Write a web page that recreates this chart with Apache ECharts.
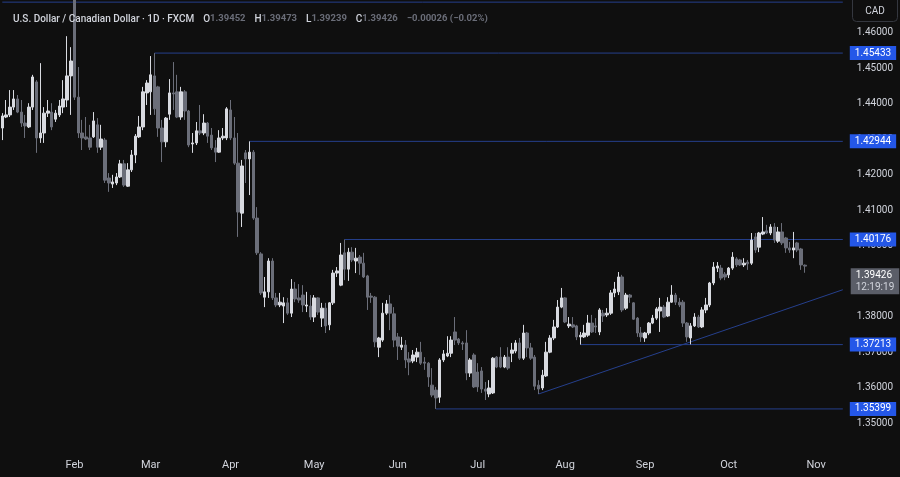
<!DOCTYPE html>
<html>
<head>
<meta charset="utf-8">
<title>USD/CAD 1D</title>
<script src="https://cdn.jsdelivr.net/npm/echarts@6/dist/echarts.min.js"></script>
<style>
  html, body { margin: 0; padding: 0; background: #0f0f0f; }
  #chart { width: 900px; height: 477px; }
</style>
</head>
<body>
<div id="chart"></div>
<script>
// daily candles per month, each row is [open, close, low, high]
const jan = [
  [1.4332,1.4366,1.4298,1.4374],[1.4363,1.4369,1.4360,1.4411],[1.4369,1.4391,1.4363,1.4439],
  [1.4391,1.4414,1.4383,1.4439],[1.4414,1.4377,1.4374,1.4425],[1.4377,1.4346,1.4335,1.4411],
  [1.4346,1.4338,1.4304,1.4369],[1.4335,1.4391,1.4332,1.4402],[1.4391,1.4476,1.4383,1.4482],
  [1.4462,1.4304,1.4262,1.4467],[1.4304,1.4318,1.4290,1.4515],[1.4318,1.4374,1.4290,1.4391],
  [1.4374,1.4380,1.4363,1.4411],[1.4377,1.4335,1.4326,1.4402],[1.4357,1.4374,1.4349,1.4383],
  [1.4369,1.4394,1.4363,1.4411],[1.4391,1.4414,1.4374,1.4467],[1.4411,1.4479,1.4391,1.4591],
  [1.4479,1.4521,1.4369,1.4560]
]
const feb = [
  [1.4750,1.4419,1.4411,1.4793],[1.4419,1.4318,1.4304,1.4504],[1.4318,1.4304,1.4270,1.4355],
  [1.4307,1.4301,1.4298,1.4363],[1.4304,1.4278,1.4270,1.4341],[1.4307,1.4352,1.4304,1.4377],
  [1.4341,1.4278,1.4262,1.4360],[1.4278,1.4301,1.4270,1.4341],[1.4298,1.4185,1.4177,1.4304],
  [1.4191,1.4177,1.4152,1.4205],[1.4174,1.4180,1.4163,1.4200],[1.4177,1.4194,1.4171,1.4205],
  [1.4194,1.4231,1.4191,1.4242],[1.4231,1.4171,1.4166,1.4242],[1.4168,1.4214,1.4166,1.4233],
  [1.4214,1.4256,1.4208,1.4270],[1.4256,1.4309,1.4233,1.4315],[1.4307,1.4335,1.4304,1.4366],
  [1.4335,1.4434,1.4326,1.4448],[1.4431,1.4459,1.4397,1.4467]
]
const mar = [
  [1.4434,1.4482,1.4369,1.4535],[1.4479,1.4386,1.4369,1.45433],[1.4448,1.4332,1.4307,1.4451],
  [1.4332,1.4293,1.4236,1.4355],[1.4293,1.4360,1.4278,1.4363],[1.4371,1.4431,1.4355,1.4470],
  [1.4431,1.4428,1.4383,1.4518],[1.4434,1.4363,1.4360,1.4482],[1.4363,1.4434,1.4355,1.4448],
  [1.4434,1.4380,1.4355,1.4439],[1.4380,1.4284,1.4278,1.4383],[1.4287,1.4290,1.4262,1.4318],
  [1.4290,1.4324,1.4284,1.4349],[1.4324,1.4318,1.4312,1.4397],[1.4318,1.4346,1.4312,1.4371],
  [1.4346,1.4309,1.4290,1.4349],[1.4312,1.4276,1.4270,1.4332],[1.4276,1.4264,1.4236,1.4298],
  [1.4264,1.4304,1.4262,1.4326],[1.4304,1.4309,1.4298,1.4332],[1.4304,1.4386,1.4298,1.4391]
]
const apr = [
  [1.4383,1.4304,1.4298,1.4411],[1.4304,1.4233,1.4228,1.4363],[1.4233,1.4095,1.4025,1.4318],
  [1.4092,1.4225,1.4053,1.4242],[1.4262,1.4245,1.4177,1.4270],[1.4245,1.4264,1.4143,1.42944],
  [1.4264,1.4078,1.4073,1.4270],[1.4078,1.3980,1.3974,1.4109],[1.3977,1.3867,1.3861,1.3982],
  [1.3855,1.3870,1.3827,1.3912],[1.3870,1.3957,1.3853,1.3965],[1.3957,1.3853,1.3847,1.3965],
  [1.3853,1.3833,1.3827,1.3867],[1.3833,1.3841,1.3827,1.3867],[1.3830,1.3839,1.3782,1.3855],
  [1.3839,1.3810,1.3805,1.3853],[1.3810,1.3878,1.3799,1.3906],[1.3878,1.3850,1.3841,1.3898],
  [1.3853,1.3847,1.3839,1.3892],[1.3861,1.3833,1.3813,1.3889],[1.3830,1.3833,1.3813,1.3870],
  [1.3830,1.3799,1.3791,1.3861]
]
const may = [
  [1.3799,1.3853,1.3785,1.3861],[1.3853,1.3813,1.3805,1.3855],[1.3796,1.3824,1.3771,1.3839],
  [1.3824,1.3774,1.3754,1.3839],[1.3777,1.3839,1.3762,1.3841],[1.3839,1.3923,1.3833,1.3932],
  [1.3923,1.3929,1.3912,1.3940],[1.3889,1.3974,1.3886,1.4008],[1.3980,1.3934,1.3903,1.40176],
  [1.3934,1.3982,1.3901,1.3994],[1.3982,1.3960,1.3954,1.3996],[1.3957,1.3965,1.3923,1.3994],
  [1.3968,1.3951,1.3918,1.3974],[1.3951,1.3912,1.3909,1.3980],[1.3915,1.3855,1.3819,1.3918],
  [1.3858,1.3855,1.3839,1.3867],[1.3855,1.3729,1.3714,1.3858],[1.3714,1.3740,1.3686,1.3743],
  [1.3734,1.3810,1.3729,1.3839],[1.3810,1.3836,1.3805,1.3847],[1.3836,1.3810,1.3762,1.3861],
  [1.3808,1.3734,1.3714,1.3827]
]
const jun = [
  [1.3743,1.3717,1.3678,1.3754],[1.3714,1.3720,1.3706,1.3743],[1.3720,1.3678,1.3655,1.3734],
  [1.3681,1.3672,1.3635,1.3700],[1.3675,1.3692,1.3669,1.3706],[1.3686,1.3700,1.3672,1.3712],
  [1.3700,1.3669,1.3664,1.3729],[1.3672,1.3669,1.3650,1.3686],[1.3669,1.3630,1.3602,1.3672],
  [1.3607,1.3579,1.3573,1.3655],[1.3593,1.3571,1.35399,1.3602],[1.3573,1.3678,1.3557,1.3683],
  [1.3678,1.3695,1.3672,1.3706],[1.3689,1.3697,1.3686,1.3745],[1.3697,1.3734,1.3686,1.3745],
  [1.3757,1.3734,1.3720,1.3799],[1.3737,1.3726,1.3720,1.3740],[1.3726,1.3723,1.3706,1.3731],
  [1.3726,1.3641,1.3621,1.3762],[1.3641,1.3678,1.3630,1.3683],[1.3692,1.3602,1.3599,1.3697]
]
const jul = [
  [1.3644,1.3602,1.3588,1.3669],[1.3647,1.3596,1.3585,1.3658],[1.3596,1.3590,1.3565,1.3616],
  [1.3582,1.3599,1.3573,1.3621],[1.3585,1.3683,1.3582,1.3686],[1.3686,1.3658,1.3655,1.3689],
  [1.3686,1.3658,1.3655,1.3714],[1.3658,1.3686,1.3655,1.3692],[1.3686,1.3655,1.3650,1.3714],
  [1.3697,1.3706,1.3672,1.3726],[1.3703,1.3726,1.3697,1.3734],[1.3726,1.3683,1.3678,1.3740],
  [1.3683,1.3754,1.3678,1.3777],[1.3754,1.3712,1.3686,1.3757],[1.3712,1.3683,1.3678,1.3726],
  [1.3686,1.3604,1.3593,1.3692],[1.3607,1.3596,1.3582,1.3621],[1.3599,1.3635,1.3593,1.3650],
  [1.3633,1.3700,1.3630,1.3729],[1.3700,1.3740,1.3697,1.3748],[1.3740,1.3771,1.3734,1.3791],
  [1.3771,1.3827,1.3768,1.3847],[1.3827,1.3853,1.3824,1.3881]
]
const aug = [
  [1.3853,1.3785,1.3782,1.3855],[1.3774,1.3779,1.3768,1.3799],[1.3777,1.3771,1.3768,1.3799],
  [1.3774,1.3743,1.3734,1.3777],[1.3743,1.3748,1.37213,1.3757],[1.3743,1.3754,1.3740,1.3777],
  [1.3748,1.3782,1.3743,1.3805],[1.3782,1.3757,1.3754,1.3805],[1.3774,1.3771,1.3754,1.3796],
  [1.3757,1.3819,1.3748,1.3824],[1.3810,1.3802,1.3785,1.3819],[1.3805,1.3810,1.3799,1.3824],
  [1.3810,1.3867,1.3805,1.3875],[1.3867,1.3878,1.3855,1.3898],[1.3870,1.3912,1.3861,1.3926],
  [1.3912,1.3819,1.3813,1.3918],[1.3824,1.3861,1.3819,1.3867],[1.3861,1.3855,1.3839,1.3864],
  [1.3839,1.3793,1.3791,1.3841],[1.3796,1.3754,1.3743,1.3799],[1.3754,1.3743,1.3729,1.3771]
]
const sep = [
  [1.3740,1.3754,1.3729,1.3757],[1.3754,1.3782,1.3748,1.3785],[1.3782,1.3796,1.3779,1.3805],
  [1.3796,1.3822,1.3791,1.3827],[1.3816,1.3827,1.3757,1.3853],[1.3827,1.3799,1.3796,1.3833],
  [1.3802,1.3841,1.3799,1.3855],[1.3841,1.3861,1.3839,1.3889],[1.3861,1.3841,1.3833,1.3867],
  [1.3841,1.3833,1.3827,1.3853],[1.3841,1.3782,1.3771,1.3847],[1.3782,1.3743,1.3729,1.3785],
  [1.3740,1.3774,1.3722,1.3782],[1.3774,1.3799,1.3771,1.3810],[1.3799,1.3771,1.3768,1.3805],
  [1.3771,1.3819,1.3768,1.3827],[1.3819,1.3833,1.3810,1.3853],[1.3833,1.3895,1.3827,1.3898],
  [1.3895,1.3940,1.3889,1.3954],[1.3937,1.3943,1.3926,1.3954],[1.3937,1.3909,1.3903,1.3946],
  [1.3920,1.3912,1.3903,1.3926]
]
const oct = [
  [1.3918,1.3937,1.3909,1.3940],[1.3937,1.3968,1.3932,1.3982],[1.3963,1.3946,1.3940,1.3968],
  [1.3960,1.3946,1.3943,1.3963],[1.3946,1.3951,1.3940,1.3965],[1.3954,1.3949,1.3932,1.3960],
  [1.3951,1.4016,1.3946,1.4036],[1.4025,1.3988,1.3980,1.4036],[1.3996,1.4036,1.3982,1.4039],
  [1.4033,1.4039,1.4030,1.4081],[1.4042,1.4036,1.4033,1.4059],[1.4036,1.4053,1.4030,1.4061],
  [1.4053,1.4016,1.4008,1.4064],[1.4013,1.4039,1.4008,1.4053],[1.4039,1.4008,1.4002,1.4064],
  [1.4022,1.3994,1.3980,1.4025],[1.3994,1.3988,1.3980,1.4011],[1.3988,1.3994,1.3965,1.4039],
  [1.4008,1.3988,1.3982,1.4011],[1.3991,1.3946,1.3932,1.3994],[1.39452,1.39426,1.39239,1.39473]
]
const candles = [].concat(jan, feb, mar, apr, may, jun, jul, aug, sep, oct)

// horizontal levels: [first bar index, price]
const levels = [[40, 1.45433], [65, 1.42944], [90, 1.40176], [114, 1.35399], [152, 1.37213]]
const topLevel = 1.4687
// rising trendline: [bar index, price] at both ends
const trendStart = [141, 1.3582]
const trendEnd = [221, 1.3876]

const priceTicks = [1.35, 1.36, 1.37, 1.38, 1.39, 1.40, 1.41, 1.42, 1.43, 1.44, 1.45, 1.46]
const monthNames = ['Jan', 'Feb', 'Mar', 'Apr', 'May', 'Jun', 'Jul', 'Aug', 'Sep', 'Oct', 'Nov', 'Dec']

// trading days from 7 Jan 2025, with empty room to the right of the last bar
const dates = []
const day = new Date(Date.UTC(2025, 0, 7))
while (dates.length < 222) {
  const wd = day.getUTCDay()
  if (wd !== 0 && wd !== 6) dates.push(day.toISOString().slice(0, 10))
  day.setUTCDate(day.getUTCDate() + 1)
}

const last = candles[candles.length - 1]
const lastIdx = dates.length - 1
const font = 'Roboto, "Noto Sans", sans-serif'
const lineBlue = '#253f8c'

// drawn lines as plain line series so their colour is under control
const drawnLine = (points, label) => ({
  type: 'line',
  data: points,
  symbol: 'none',
  silent: true,
  animation: false,
  z: 1,
  lineStyle: { color: lineBlue, width: 1 },
  endLabel: label ? {
    show: true,
    distance: 7,
    formatter: label,
    color: '#ffffff',
    backgroundColor: '#2457e8',
    padding: [2, 5, 1, 5],
    lineHeight: 11,
    fontSize: 10,
    fontFamily: font
  } : { show: false }
})

const option = {
  backgroundColor: '#0f0f0f',
  animation: false,
  textStyle: { fontFamily: font },
  title: {
    left: 8,
    top: 5,
    text: '{a|U.S. Dollar / Canadian Dollar · 1D · FXCM}  {b|O}{c|' + last[0].toFixed(5) +
      '}  {b|H}{c|' + last[3].toFixed(5) + '}  {b|L}{c|' + last[2].toFixed(5) +
      '}  {b|C}{c|' + last[1].toFixed(5) + '}  {c|−0.00026 (−0.02%)}',
    textStyle: {
      rich: {
        a: { color: '#d1d4dc', fontSize: 10, fontWeight: 500, fontFamily: font },
        b: { color: '#d1d4dc', fontSize: 10, fontWeight: 500, fontFamily: font },
        c: { color: '#6a6d78', fontSize: 9.5, fontFamily: font }
      }
    }
  },
  grid: { left: 0.4, right: 55.3, top: 0, bottom: 22 },
  xAxis: {
    type: 'category',
    data: dates,
    boundaryGap: true,
    axisLine: { show: false },
    axisTick: { show: false },
    splitLine: { show: false },
    axisLabel: {
      color: '#d1d4dc',
      fontSize: 11,
      margin: 5,
      interval: (i, v) => i > 0 && v.slice(5, 7) !== dates[i - 1].slice(5, 7),
      formatter: v => monthNames[Number(v.slice(5, 7)) - 1]
    }
  },
  yAxis: {
    type: 'value',
    position: 'right',
    min: 1.3410,
    max: 1.4693,
    axisLine: { show: false },
    axisTick: { show: false },
    splitLine: { show: false },
    axisLabel: {
      customValues: priceTicks,
      formatter: v => v.toFixed(5),
      color: '#d1d4dc',
      fontSize: 10,
      margin: 12
    }
  },
  series: [
    ...levels.map(([start, price]) => drawnLine([[start, price], [lastIdx, price]], price.toFixed(5))),
    drawnLine([[0, topLevel], [lastIdx, topLevel]]),
    drawnLine([trendStart, trendEnd]),
    {
      type: 'candlestick',
      data: candles,
      barWidth: 3,
      z: 3,
      itemStyle: {
        color: '#d8dae0',
        color0: '#6b6e79',
        borderColor: '#d8dae0',
        borderColor0: '#6b6e79',
        borderWidth: 1
      },
      markLine: {
        silent: true,
        symbol: ['none', 'none'],
        data: [
          {
            yAxis: last[1],
            lineStyle: { color: 'rgba(0,0,0,0)', width: 1 },
            label: {
              show: true,
              position: 'end',
              distance: 6,
              formatter: '{p|' + last[1].toFixed(5) + '}\n{t|12:19:19}',
              backgroundColor: '#5b5e68',
              padding: [1, 5, 1, 5],
              rich: {
                p: { color: '#ffffff', fontSize: 10, lineHeight: 12, fontFamily: font },
                t: { color: '#d1d4dc', fontSize: 10, lineHeight: 12, fontFamily: font }
              }
            }
          }
        ]
      }
    }
  ],
  graphic: [
    {
      type: 'rect',
      shape: { x: 852.5, y: -4.5, width: 45, height: 26, r: 4 },
      style: { fill: 'none', stroke: '#34373f', lineWidth: 1 }
    },
    {
      type: 'text',
      x: 875,
      y: 11,
      style: { text: 'CAD', fill: '#d1d4dc', fontSize: 10, fontFamily: font, align: 'center', verticalAlign: 'middle' }
    }
  ]
}

const chart = echarts.init(document.getElementById('chart'))
chart.setOption(option)
</script>
</body>
</html>
